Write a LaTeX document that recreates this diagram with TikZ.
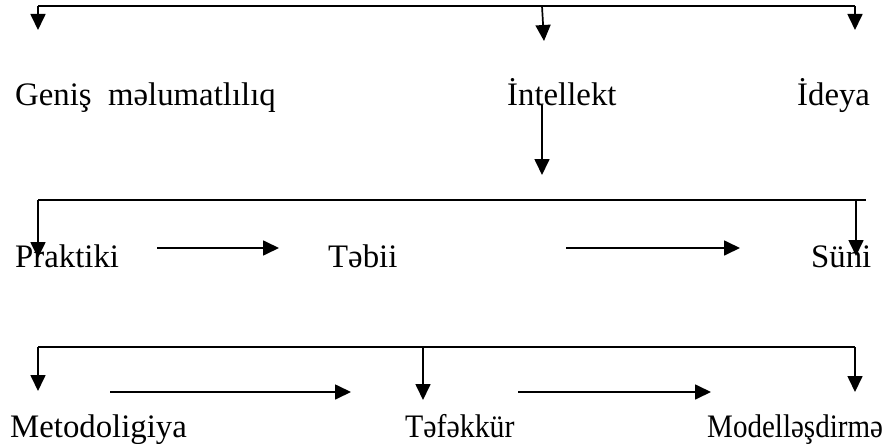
\documentclass[tikz,border=0pt]{standalone}
\usepackage{fontspec}
\setmainfont{Liberation Serif}
\usetikzlibrary{arrows.meta}
\tikzset{
  lbl/.style={inner sep=0pt, anchor=base west, font=\fontsize{32.8}{36}\selectfont},
  conn/.style={line width=1.7pt},
  arr/.style={line width=1.7pt, -{Triangle[width=15pt,length=16pt]}},
}
\begin{document}
\begin{tikzpicture}[x=1pt,y=-1pt]
\useasboundingbox (0,0) rectangle (883,444);
% row 1 labels
\node[lbl] (genis) at (15,105) {Geniş\ \ məlumatlılıq};
\node[lbl] (intel) at (507,105) {İntellekt};
\node[lbl] (ideya) at (797,105) {İdeya};
% row 2 labels
\node[lbl] (prak) at (15,267) {Praktiki};
\node[lbl] (tebii) at (328,267) {Təbii};
\node[lbl] (suni) at (811,267) {Süni};
% row 3 labels
\node[lbl] (metod) at (10,437) {Metodoligiya};
\node[lbl] (tefek) at (405,437) {\scalebox{0.91}[1]{Təfəkkür}};
\node[lbl] (model) at (707,437) {\scalebox{0.885}[1]{Modelləşdirmə}};
% top bracket
\coordinate (a1) at (38,6);
\coordinate (a2) at (855,6);
\coordinate (a3) at (542,6);
\coordinate (a1e) at (38,30);
\coordinate (a2e) at (855,30);
\coordinate (a3e) at (544,41);
\draw[conn] (a1) -- (a2);
\draw[arr] (a1) -- (a1e);
\draw[arr] (a2) -- (a2e);
\draw[arr] (a3) -- (a3e);
% intellekt down
\coordinate (i1) at (542,105);
\coordinate (i2) at (542,175);
\draw[arr] (i1) -- (i2);
% second bracket
\coordinate (b1) at (38,200);
\coordinate (b2) at (866,200);
\coordinate (b3) at (856,200);
\coordinate (b1e) at (38,258);
\coordinate (b3e) at (856,256);
\draw[conn] (b1) -- (b2);
\draw[arr] (b1) -- (b1e);
\draw[arr] (b3) -- (b3e);
% row 2 horizontal arrows
\coordinate (h1s) at (157,248);
\coordinate (h1e) at (279,248);
\coordinate (h2s) at (566,248);
\coordinate (h2e) at (740,248);
\draw[arr] (h1s) -- (h1e);
\draw[arr] (h2s) -- (h2e);
% third bracket
\coordinate (c1) at (38,347);
\coordinate (c2) at (855,347);
\coordinate (c3) at (423,347);
\coordinate (c1e) at (38,391);
\coordinate (c2e) at (855,392);
\coordinate (c3e) at (423,400);
\draw[conn] (c1) -- (c2);
\draw[arr] (c1) -- (c1e);
\draw[arr] (c2) -- (c2e);
\draw[arr] (c3) -- (c3e);
% row 3 horizontal arrows
\coordinate (k1s) at (110,392);
\coordinate (k1e) at (351,392);
\coordinate (k2s) at (518,392);
\coordinate (k2e) at (711,392);
\draw[arr] (k1s) -- (k1e);
\draw[arr] (k2s) -- (k2e);
\end{tikzpicture}
\end{document}
